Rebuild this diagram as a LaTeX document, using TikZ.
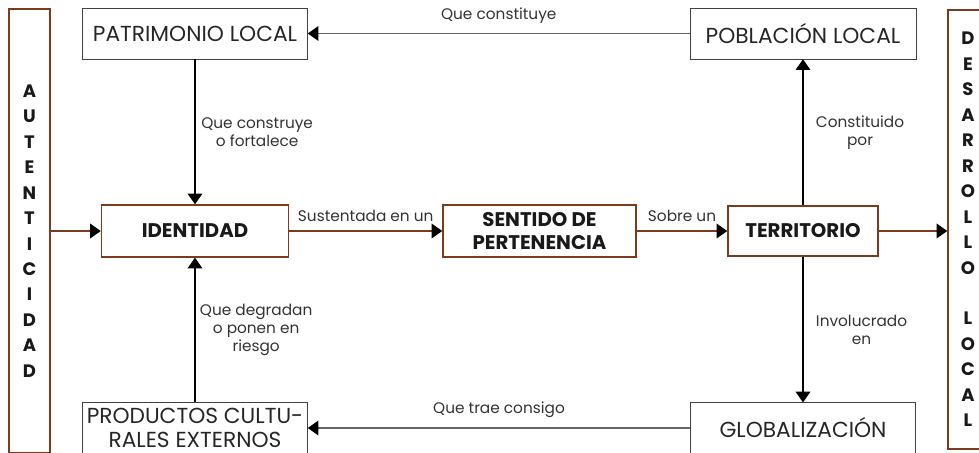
\documentclass[tikz,border=0pt]{standalone}
\usepackage{fontspec}
\setmainfont{Poppins}
\usepackage{xcolor}
\definecolor{cafecl}{RGB}{125, 58, 30}
\usepackage{tikz}
\usetikzlibrary{shapes,arrows, positioning, arrows.meta}

\begin{document}
\begin{tikzpicture}[x=0.75pt, y=-0.75pt,
    caja/.style={draw=black!75, rectangle, inner sep=0pt, text=black!85, align=center, font=\fontsize{16.3}{17.5}\selectfont},
    cajab/.style={caja, draw=cafecl, line width=1.1pt, text=black!90, font=\bfseries\fontsize{14.8}{17.5}\selectfont},
    columna/.style={draw=cafecl, line width=1.1pt, inner sep=0pt, align=center, text=black!90, font=\bfseries\fontsize{13.5}{19.1}\selectfont},
    etiq/.style={font=\fontsize{11.5}{13.5}\selectfont, text=black!80, align=center},
    punta/.style={-{Triangle[length=8pt, width=11pt, color=black]}},
    flecha/.style={punta, draw=black, line width=0.8pt},
    flechab/.style={punta, draw=cafecl, line width=1.1pt},
    flechag/.style={punta, draw=black!60, line width=1.1pt}]
    % Marco de la figura
    \useasboundingbox (0,0) rectangle (979,453);
    \clip (0,0) rectangle (979,453);
    % Columnas laterales
    \node[columna, minimum width=30.75pt, minimum height=333pt] (autent) at (29.5,231) {A\\U\\T\\E\\N\\T\\I\\C\\I\\D\\A\\D};
    \node[columna, minimum width=30pt, minimum height=329.25pt] (desarrollo) at (968,229.5) {D\\E\\S\\A\\R\\R\\O\\L\\L\\O\\[19.1pt]L\\O\\C\\A\\L};
    % Cajas de la fila superior
    \node[caja, minimum width=168.75pt, minimum height=38.25pt] (patrimonio) at (195,33.5) {PATRIMONIO LOCAL};
    \node[caja, minimum width=169.5pt, minimum height=38.25pt] (poblacion) at (803,33.5) {POBLACIÓN LOCAL};
    % Cajas centrales
    \node[cajab, minimum width=140.25pt, minimum height=39pt] (identidad) at (195,231) {IDENTIDAD};
    \node[cajab, minimum width=144.75pt, minimum height=39pt] (sentido) at (539.5,231) {SENTIDO DE\\PERTENENCIA};
    \node[cajab, minimum width=112.5pt, minimum height=37.5pt] (territorio) at (803,231) {TERRITORIO};
    % Cajas de la fila inferior
    \node[caja, minimum width=168.75pt, minimum height=38pt] (productos) at (195,428) {PRODUCTOS CULTU-\\RALES EXTERNOS};
    \node[caja, minimum width=168.75pt, minimum height=38pt] (global) at (803,428) {GLOBALIZACIÓN};
    % Flujo principal
    \draw[flechab] (autent.east |- identidad.west) -- (identidad.west);
    \draw[flechab] (identidad) -- node[etiq, above=3pt] {Sustentada en un} (sentido);
    \draw[flechab] (sentido) -- node[etiq, above=3pt] {Sobre un} (territorio);
    \draw[flechab] (territorio.east) -- (territorio.east -| desarrollo.west);
    % Relaciones horizontales
    \draw[flechag] (poblacion) -- node[etiq, above=4pt] {Que constituye} (patrimonio);
    \draw[flechag] (global) -- node[etiq, above=4pt] {Que trae consigo} (productos);
    % Relaciones verticales
    \draw[flecha] (patrimonio) -- node[etiq, right=1pt] {Que construye\\o fortalece} (identidad);
    \draw[flecha] (productos) -- node[etiq, right=0pt] {Que degradan\\o ponen en\\riesgo} (identidad);
    \draw[flecha] (territorio) -- node[etiq, right=6pt] {Constituido\\por} (poblacion);
    \draw[flecha] (territorio) -- node[etiq, right=6pt] {Involucrado\\en} (global);
\end{tikzpicture}
\end{document}
